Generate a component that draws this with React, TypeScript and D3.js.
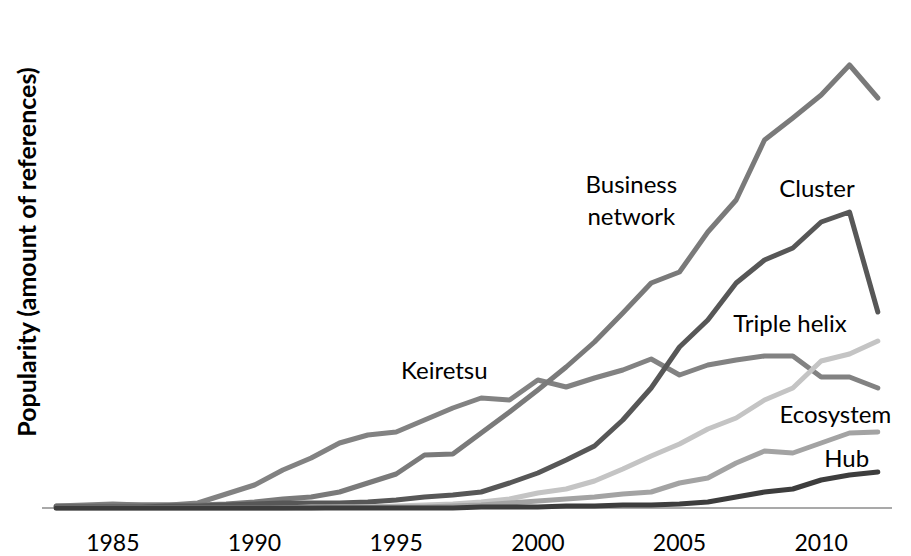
import { useEffect, useRef } from "react";
import * as d3 from "d3";

const WIDTH = 911;
const HEIGHT = 556;

const years = d3.range(1983, 2013).map(String);
const tickYears = ["1985", "1990", "1995", "2000", "2005", "2010"];

// values (relative popularity, no axis units given)
const keiretsu = [2, 3, 4, 3, 3, 5, 14, 23, 38, 50, 65, 73, 76, 88, 100, 110, 108, 128, 121, 130, 138, 149, 133, 143, 148, 152, 152, 131, 131, 120];
const businessNetwork = [2, 2, 3, 3, 3, 3, 4, 6, 9, 11, 16, 25, 34, 53, 54, 75, 96, 118, 141, 166, 195, 225, 236, 276, 308, 368, 390, 413, 443, 410];
const cluster = [1, 1, 1, 1, 2, 2, 3, 4, 5, 5, 5, 6, 8, 11, 13, 16, 25, 35, 48, 62, 88, 120, 161, 188, 225, 248, 260, 286, 296, 196];
const tripleHelix = [0, 0, 0, 0, 0, 0, 0, 0, 0, 1, 1, 1, 2, 3, 4, 6, 9, 15, 19, 27, 39, 52, 64, 79, 90, 108, 120, 147, 154, 167];
const ecosystem = [0, 0, 0, 0, 0, 0, 0, 0, 0, 0, 1, 1, 1, 1, 2, 3, 5, 7, 9, 11, 14, 16, 25, 30, 45, 57, 55, 65, 75, 76];
const hub = [0, 0, 0, 0, 0, 0, 0, 0, 0, 0, 0, 0, 0, 0, 0, 1, 1, 1, 2, 2, 3, 3, 4, 6, 11, 16, 19, 28, 33, 36];

type Series = { name: string; values: number[]; color: string };

const series: Series[] = [
  { name: "Keiretsu", values: keiretsu, color: "#828282" },
  { name: "Business network", values: businessNetwork, color: "#7a7a7a" },
  { name: "Cluster", values: cluster, color: "#575757" },
  { name: "Triple helix", values: tripleHelix, color: "#c4c4c4" },
  { name: "Ecosystem", values: ecosystem, color: "#a3a3a3" },
  { name: "Hub", values: hub, color: "#3d3d3d" },
];

// where each label sits: (fractional) year of its centre, value height of its baseline
const labels: { year: number; value: number; lines: string[] }[] = [
  { year: 1996.7, value: 129, lines: ["Keiretsu"] },
  { year: 2003.3, value: 315, lines: ["Business", "network"] },
  { year: 2009.85, value: 311, lines: ["Cluster"] },
  { year: 2008.9, value: 176, lines: ["Triple helix"] },
  { year: 2010.5, value: 85, lines: ["Ecosystem"] },
  { year: 2010.9, value: 41, lines: ["Hub"] },
];

const FONT = "Lato, 'Open Sans', sans-serif";

export default function App() {
  const svgRef = useRef<SVGSVGElement | null>(null);

  useEffect(() => {
    const svgEl = svgRef.current;
    if (!svgEl) return;
    const svg = d3.select(svgEl);
    svg.selectAll("*").remove();

    const x = d3.scaleBand<string>().domain(years).range([42, 892]);
    const cx = (yr: string) => (x(yr) ?? 0) + x.bandwidth() / 2;
    const xYear = d3
      .scaleLinear()
      .domain([+years[0], +years[years.length - 1]])
      .range([cx(years[0]), cx(years[years.length - 1])]);
    const y = d3.scaleLinear().domain([0, 450]).range([508, 58]);

    svg.append("rect").attr("width", WIDTH).attr("height", HEIGHT).attr("fill", "#ffffff");

    // axis line
    svg
      .append("line")
      .attr("x1", x.range()[0])
      .attr("x2", x.range()[1])
      .attr("y1", y(0))
      .attr("y2", y(0))
      .attr("stroke", "#8c8c8c")
      .attr("stroke-width", 1.5);

    const line = d3
      .line<number>()
      .x((_d, i) => cx(years[i]))
      .y((d) => y(d));

    svg
      .append("g")
      .selectAll("path")
      .data(series)
      .enter()
      .append("path")
      .attr("d", (d) => line(d.values))
      .attr("fill", "none")
      .attr("stroke", (d) => d.color)
      .attr("stroke-width", 5)
      .attr("stroke-linejoin", "round")
      .attr("stroke-linecap", "round");

    // year labels
    svg
      .append("g")
      .selectAll("text")
      .data(tickYears)
      .enter()
      .append("text")
      .text((d) => d)
      .attr("x", (d) => cx(d))
      .attr("y", 551)
      .attr("text-anchor", "middle")
      .attr("font-family", FONT)
      .attr("font-size", 23)
      .attr("fill", "#000");

    // series labels
    labels.forEach((l) => {
      const t = svg
        .append("text")
        .attr("x", xYear(l.year))
        .attr("y", y(l.value))
        .attr("text-anchor", "middle")
        .attr("font-family", FONT)
        .attr("font-size", 24)
        .attr("fill", "#000");
      l.lines.forEach((s, i) => {
        t.append("tspan").attr("x", xYear(l.year)).attr("dy", i === 0 ? 0 : 32).text(s);
      });
    });

    // y axis title
    svg
      .append("text")
      .text("Popularity (amount of references)")
      .attr("transform", "translate(36, 252) rotate(-90)")
      .attr("text-anchor", "middle")
      .attr("font-family", FONT)
      .attr("font-size", 25)
      .attr("font-weight", 700)
      .attr("fill", "#000");
  }, []);

  return (
    <svg
      ref={svgRef}
      width={WIDTH}
      height={HEIGHT}
      style={{ position: "absolute", left: 0, top: 0, display: "block" }}
      role="img"
      aria-label="Popularity of network concepts over time"
    />
  );
}
